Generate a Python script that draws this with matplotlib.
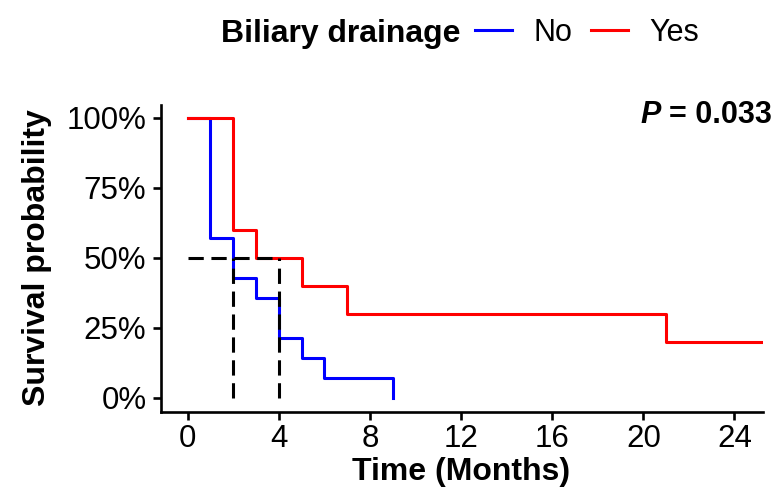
import matplotlib
matplotlib.use("Agg")
import matplotlib.pyplot as plt
from matplotlib.lines import Line2D

plt.rcParams['font.family'] = ['Liberation Sans', 'DejaVu Sans']

# Kaplan-Meier steps (months, survival %)
no_times = [0, 1, 2, 3, 4, 5, 6, 9, 9]
no_surv = [100, 57.1, 42.9, 35.7, 21.4, 14.3, 7.1, 7.1, 0]
yes_times = [0, 2, 3, 5, 7, 21, 25.2]
yes_surv = [100, 60, 50, 40, 30, 20, 20]

# median survival: No = 2, Yes = 4
medians = [2, 4]

groups = ["No", "Yes"]
colors = ["#0000FF", "#FF0000"]
x_ticks = [0, 4, 8, 12, 16, 20, 24]
y_ticks = [0, 25, 50, 75, 100]
y_labels = ["0%", "25%", "50%", "75%", "100%"]
p_value = "0.033"

W, H = 776, 488
fig = plt.figure(figsize=(W / 100, H / 100), dpi=100)
ax = fig.add_axes([161 / W, 1 - 411.7 / H, (762.7 - 161) / W, (411.7 - 105) / H])

ax.step(no_times, no_surv, where="post", color=colors[0], lw=2.2)
ax.step(yes_times, yes_surv, where="post", color=colors[1], lw=2.2)

# median lines
ax.plot([0, max(medians)], [50, 50], color="black", lw=2.2, dashes=(5, 2.5))
for m in medians:
    ax.plot([m, m], [0, 50], color="black", lw=2.2, dashes=(5, 2.5))

ax.set_xlim(-1.17, 25.24)
ax.set_ylim(-4.9, 104.6)
ax.set_xticks(x_ticks)
ax.set_yticks(y_ticks)
ax.set_yticklabels(y_labels)

for s in ["top", "right"]:
    ax.spines[s].set_visible(False)
for s in ["left", "bottom"]:
    ax.spines[s].set_linewidth(1.9)
ax.tick_params(axis="both", length=5.5, width=1.9, labelsize=22.5, colors="black")
ax.tick_params(axis="x", pad=3.5)
ax.tick_params(axis="y", pad=5)

fig.text((352 + 570) / 2 / W, 8 / H, "Time (Months)", fontsize=23, fontweight="bold",
         ha="center", va="baseline")
fig.text(37 / W, 1 - 257.5 / H, "Survival probability", fontsize=23, fontweight="bold",
         rotation=90, ha="center", va="center")

# p-value
eq = fig.text(771.7 / W, 1 - 123.3 / H, "= " + p_value, fontsize=22, fontweight="bold",
              ha="right", va="baseline")
ax.annotate("P ", xy=(0, 0), xycoords=eq, fontsize=22, fontweight="bold",
            style="italic", ha="right", va="bottom")

# legend
fig.text(221 / W, 1 - 41.7 / H, "Biliary drainage", fontsize=23, fontweight="bold",
         ha="left", va="baseline")
handles = [Line2D([], [], color=c, lw=2.2) for c in colors]
fig.legend(handles, groups, loc="center left", bbox_to_anchor=(475 / W, 1 - 32.7 / H),
           ncol=2, frameon=False, fontsize=22, handlelength=1.2, handletextpad=0.72,
           columnspacing=0.6, borderpad=0, borderaxespad=0)

fig.savefig("out.png", dpi=100)
